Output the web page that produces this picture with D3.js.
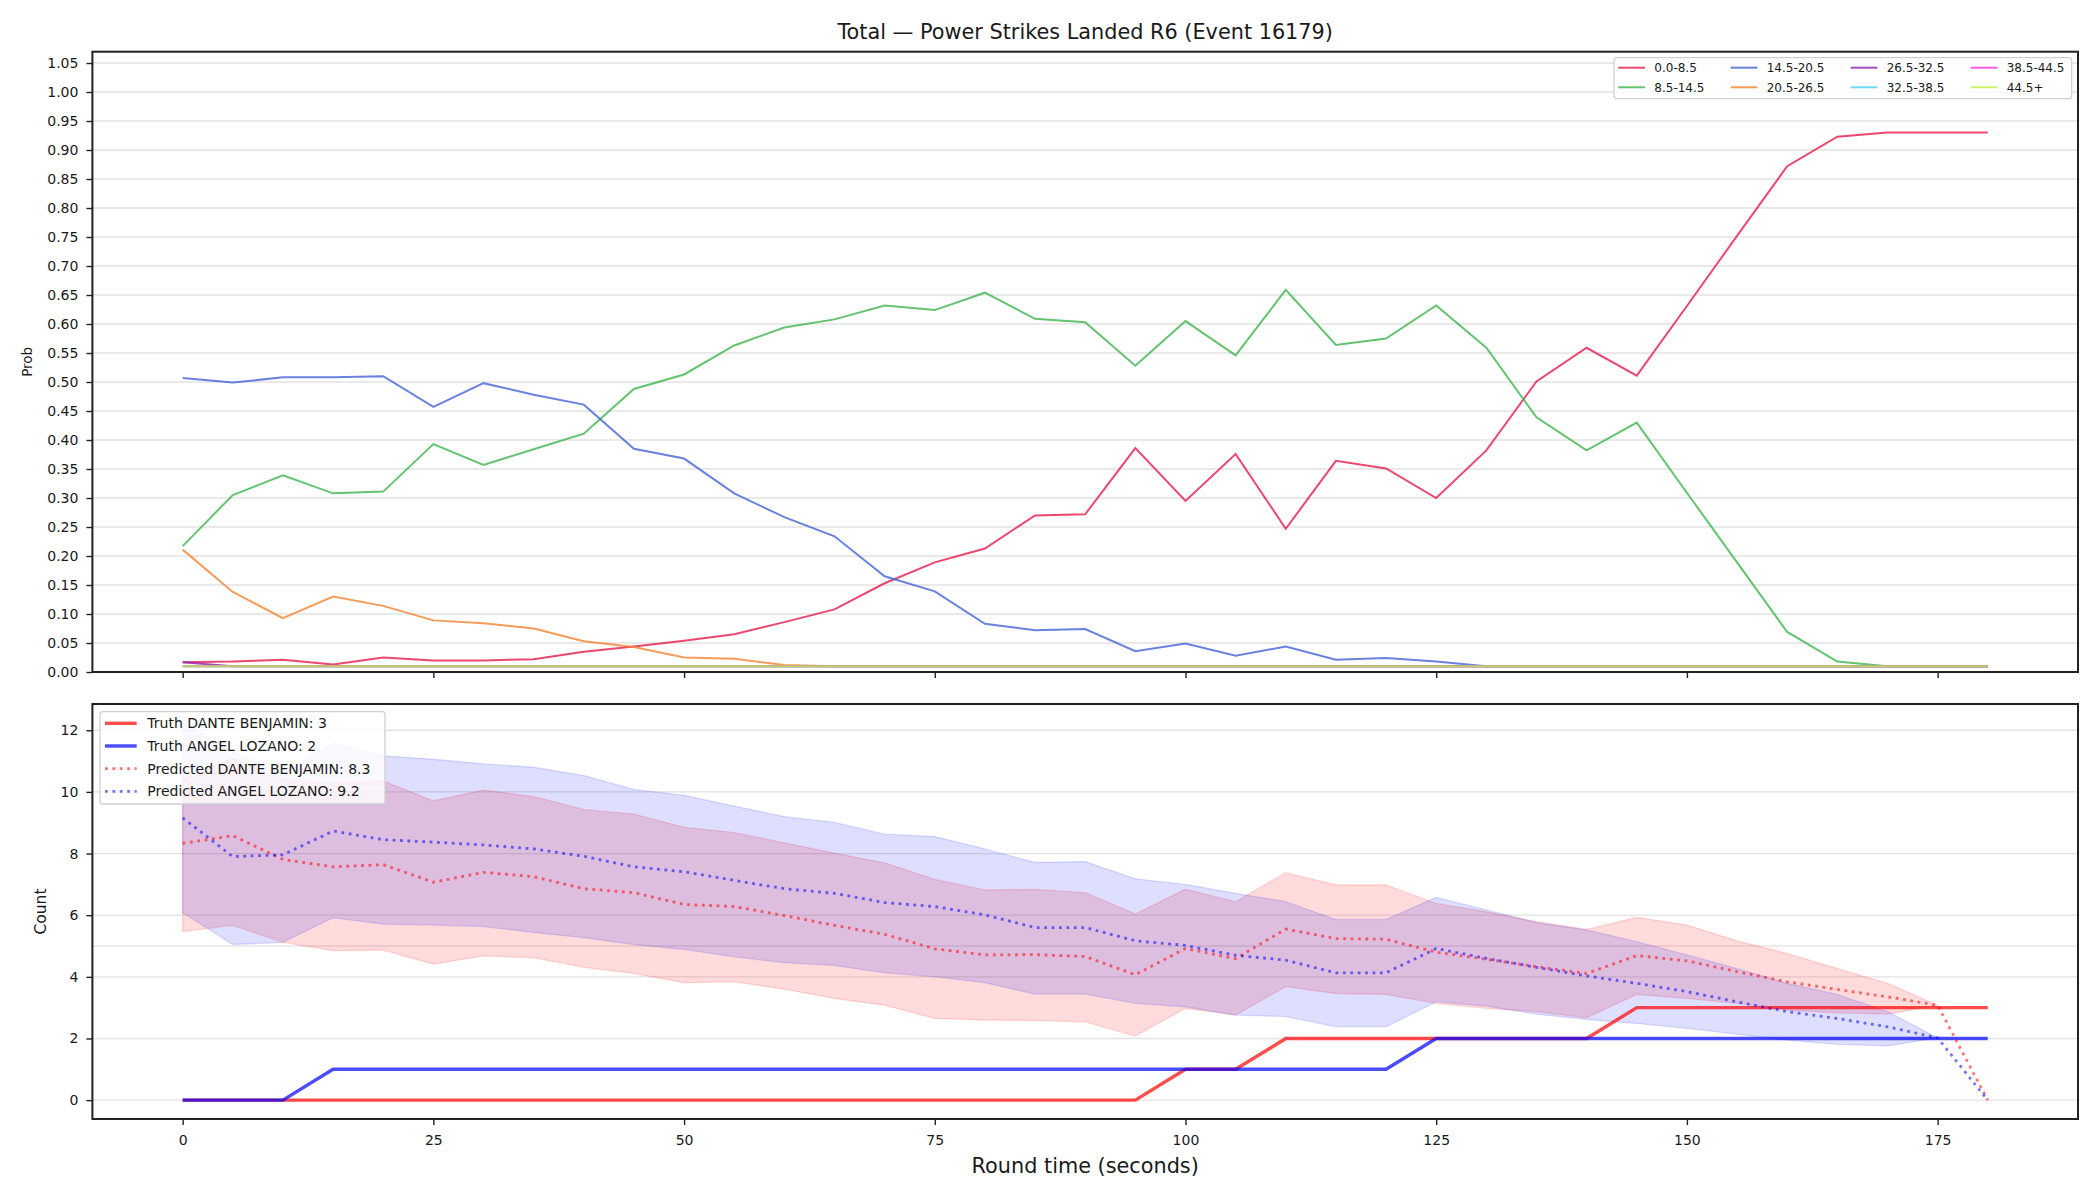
<!DOCTYPE html>
<html>
<head>
<meta charset="utf-8">
<script src="https://cdn.jsdelivr.net/npm/d3@7"></script>
<style>
body { margin: 0; background: #fff; }
text { font-family: "DejaVu Sans", sans-serif; fill: #1a1a1a; }
</style>
</head>
<body>
<script>
// ---- data ----
var times = [0, 5, 10, 15, 20, 25, 30, 35, 40, 45, 50, 55, 60, 65, 70, 75, 80, 85, 90,
	95, 100, 105, 110, 115, 120, 125, 130, 135, 140, 145, 150, 155, 160, 165, 170, 175, 180];

var bucketNames = ["0.0-8.5", "8.5-14.5", "14.5-20.5", "20.5-26.5", "26.5-32.5", "32.5-38.5", "38.5-44.5", "44.5+"];
var bucketColors = ["#e6194b", "#3cb44b", "#4363d8", "#f58231", "#911eb4", "#42d4f4", "#f032e6", "#bfef45"];

var prob0 = [0.017, 0.018, 0.021, 0.013, 0.025, 0.020, 0.020, 0.022, 0.035, 0.044, 0.054, 0.065, 0.086, 0.108, 0.153, 0.189, 0.213, 0.270, 0.272,
	0.386, 0.295, 0.376, 0.247, 0.364, 0.351, 0.300, 0.382, 0.501, 0.559, 0.511, 0.631, 0.752, 0.872, 0.923, 0.930, 0.930, 0.930];
var prob1 = [0.217, 0.305, 0.339, 0.308, 0.311, 0.393, 0.357, 0.384, 0.411, 0.488, 0.513, 0.563, 0.594, 0.608, 0.632, 0.624, 0.654, 0.609, 0.603,
	0.528, 0.605, 0.546, 0.659, 0.564, 0.575, 0.632, 0.559, 0.439, 0.382, 0.430, 0.309, 0.189, 0.069, 0.018, 0.010, 0.010, 0.010];
var prob2 = [0.507, 0.499, 0.508, 0.508, 0.510, 0.457, 0.498, 0.478, 0.461, 0.385, 0.368, 0.308, 0.267, 0.234, 0.165, 0.139, 0.083, 0.072, 0.074,
	0.036, 0.049, 0.028, 0.044, 0.021, 0.024, 0.018, 0.010, 0.010, 0.010, 0.010, 0.010, 0.010, 0.010, 0.010, 0.010, 0.010, 0.010];
var prob3 = [0.211, 0.138, 0.093, 0.130, 0.114, 0.089, 0.084, 0.075, 0.053, 0.043, 0.025, 0.023, 0.012, 0.010, 0.010, 0.010, 0.010, 0.010, 0.010,
	0.010, 0.010, 0.010, 0.010, 0.010, 0.010, 0.010, 0.010, 0.010, 0.010, 0.010, 0.010, 0.010, 0.010, 0.010, 0.010, 0.010, 0.010];
var prob4 = [0.017, 0.010, 0.010, 0.010, 0.010, 0.010, 0.010, 0.010, 0.010, 0.010, 0.010, 0.010, 0.010, 0.010, 0.010, 0.010, 0.010, 0.010, 0.010,
	0.010, 0.010, 0.010, 0.010, 0.010, 0.010, 0.010, 0.010, 0.010, 0.010, 0.010, 0.010, 0.010, 0.010, 0.010, 0.010, 0.010, 0.010];
var prob5 = [0.010, 0.010, 0.010, 0.010, 0.010, 0.010, 0.010, 0.010, 0.010, 0.010, 0.010, 0.010, 0.010, 0.010, 0.010, 0.010, 0.010, 0.010, 0.010,
	0.010, 0.010, 0.010, 0.010, 0.010, 0.010, 0.010, 0.010, 0.010, 0.010, 0.010, 0.010, 0.010, 0.010, 0.010, 0.010, 0.010, 0.010];
var prob6 = [0.010, 0.010, 0.010, 0.010, 0.010, 0.010, 0.010, 0.010, 0.010, 0.010, 0.010, 0.010, 0.010, 0.010, 0.010, 0.010, 0.010, 0.010, 0.010,
	0.010, 0.010, 0.010, 0.010, 0.010, 0.010, 0.010, 0.010, 0.010, 0.010, 0.010, 0.010, 0.010, 0.010, 0.010, 0.010, 0.010, 0.010];
var prob7 = [0.010, 0.010, 0.010, 0.010, 0.010, 0.010, 0.010, 0.010, 0.010, 0.010, 0.010, 0.010, 0.010, 0.010, 0.010, 0.010, 0.010, 0.010, 0.010,
	0.010, 0.010, 0.010, 0.010, 0.010, 0.010, 0.010, 0.010, 0.010, 0.010, 0.010, 0.010, 0.010, 0.010, 0.010, 0.010, 0.010, 0.010];
var probSeries = [prob0, prob1, prob2, prob3, prob4, prob5, prob6, prob7];

var truthDante = [0, 0, 0, 0, 0, 0, 0, 0, 0, 0, 0, 0, 0, 0, 0, 0, 0, 0, 0,
	0, 1, 1, 2, 2, 2, 2, 2, 2, 2, 3, 3, 3, 3, 3, 3, 3, 3];
var truthAngel = [0, 0, 0, 1, 1, 1, 1, 1, 1, 1, 1, 1, 1, 1, 1, 1, 1, 1, 1,
	1, 1, 1, 1, 1, 1, 2, 2, 2, 2, 2, 2, 2, 2, 2, 2, 2, 2];
var predDante = [8.33, 8.58, 7.81, 7.57, 7.64, 7.07, 7.39, 7.25, 6.86, 6.73, 6.35, 6.28, 5.99, 5.67, 5.38, 4.91, 4.71, 4.72, 4.66,
	4.07, 4.92, 4.59, 5.55, 5.24, 5.22, 4.80, 4.57, 4.33, 4.11, 4.69, 4.52, 4.17, 3.84, 3.59, 3.35, 3.08, 0];
var predAngel = [9.16, 7.90, 7.96, 8.73, 8.45, 8.37, 8.28, 8.15, 7.91, 7.57, 7.41, 7.13, 6.86, 6.71, 6.41, 6.28, 6.01, 5.60, 5.60,
	5.17, 5.02, 4.70, 4.54, 4.13, 4.13, 4.92, 4.60, 4.31, 4.03, 3.79, 3.52, 3.19, 2.87, 2.65, 2.38, 2.02, 0];
// bands have no value at 180
var danteLo = [5.47, 5.67, 5.12, 4.85, 4.87, 4.41, 4.68, 4.62, 4.31, 4.11, 3.81, 3.84, 3.60, 3.30, 3.08, 2.65, 2.60, 2.58, 2.54,
	2.08, 2.98, 2.76, 3.68, 3.46, 3.43, 3.14, 2.98, 2.87, 2.67, 3.43, 3.30, 3.14, 2.92, 2.83, 2.79, 3.08, null];
var danteHi = [10.40, 11.10, 10.40, 10.30, 10.35, 9.71, 10.06, 9.85, 9.43, 9.28, 8.85, 8.68, 8.35, 8.01, 7.70, 7.16, 6.82, 6.84, 6.73,
	6.04, 6.84, 6.44, 7.38, 6.98, 6.98, 6.38, 6.11, 5.79, 5.54, 5.93, 5.68, 5.17, 4.76, 4.27, 3.79, 3.08, null];
var angelLo = [6.08, 5.05, 5.12, 5.92, 5.71, 5.68, 5.63, 5.44, 5.27, 5.05, 4.89, 4.65, 4.46, 4.37, 4.13, 4.00, 3.81, 3.44, 3.44,
	3.14, 3.03, 2.76, 2.71, 2.38, 2.38, 3.19, 3.05, 2.79, 2.62, 2.49, 2.33, 2.14, 1.95, 1.81, 1.76, 2.02, null];
var angelHi = [12.24, 11.30, 10.60, 11.58, 11.17, 11.06, 10.91, 10.80, 10.53, 10.08, 9.89, 9.54, 9.20, 9.01, 8.63, 8.55, 8.15, 7.71, 7.74,
	7.18, 7.00, 6.71, 6.44, 5.86, 5.86, 6.58, 6.17, 5.76, 5.52, 5.14, 4.71, 4.27, 3.79, 3.43, 2.87, 2.02, null];
var lineValue = 5;

var probTicks = [0.00, 0.05, 0.10, 0.15, 0.20, 0.25, 0.30, 0.35, 0.40, 0.45, 0.50, 0.55, 0.60, 0.65, 0.70, 0.75, 0.80, 0.85, 0.90, 0.95, 1.00, 1.05];
var countTicks = [0, 2, 4, 6, 8, 10, 12];
var timeTicks = [0, 25, 50, 75, 100, 125, 150, 175];

var titleText = "Total \u2014 Power Strikes Landed R6 (Event 16179)";
var legend2Labels = ["Truth DANTE BENJAMIN: 3", "Truth ANGEL LOZANO: 2", "Predicted DANTE BENJAMIN: 8.3", "Predicted ANGEL LOZANO: 9.2"];

// ---- layout ----
var W = 2100, H = 1200;
var left = 92.4, right = 2078;
var top1 = 51.7, bot1 = 672;
var top2 = 704, bot2 = 1119;

var svg = d3.select("body")
	.append("svg")
	.attr("width", W)
	.attr("height", H);
svg.append("rect").attr("width", W).attr("height", H).attr("fill", "#fff");

var tExt = d3.extent(times);
var tPad = (tExt[1] - tExt[0]) * 0.05;
var x = d3.scaleLinear().domain([tExt[0] - tPad, tExt[1] + tPad]).range([left, right]);

var maxProb = d3.max(probSeries, function (s) { return d3.max(s); });
var y1 = d3.scaleLinear().domain([0, maxProb * 1.15]).range([bot1, top1]);

var maxCount = d3.max([d3.max(angelHi), d3.max(danteHi), d3.max(predAngel), d3.max(predDante)]);
var y2 = d3.scaleLinear().domain([-0.05 * maxCount, 1.05 * maxCount]).range([bot2, top2]);

function styleAxis(g) {
	g.select(".domain").remove();
	g.selectAll(".tick line").attr("stroke", "#222").attr("stroke-width", 1.4);
	g.selectAll(".tick text").style("font-size", "14px").attr("fill", "#1a1a1a");
}

// ---- grids ----
svg.append("g").selectAll("line")
	.data(probTicks)
	.enter().append("line")
	.attr("x1", left).attr("x2", right)
	.attr("y1", function (d) { return y1(d); })
	.attr("y2", function (d) { return y1(d); })
	.attr("stroke", "#e2e2e2").attr("stroke-width", 1.3);

svg.append("g").selectAll("line")
	.data(countTicks)
	.enter().append("line")
	.attr("x1", left).attr("x2", right)
	.attr("y1", function (d) { return y2(d); })
	.attr("y2", function (d) { return y2(d); })
	.attr("stroke", "#e2e2e2").attr("stroke-width", 1.3);

// faint reference line
svg.append("line")
	.attr("x1", left).attr("x2", right)
	.attr("y1", y2(lineValue)).attr("y2", y2(lineValue))
	.attr("stroke", "#e6e6e6").attr("stroke-width", 1.3);

// ---- top panel: bucket probabilities ----
var probLine = d3.line()
	.x(function (d, i) { return x(times[i]); })
	.y(function (d) { return y1(d); });

probSeries.forEach(function (s, k) {
	svg.append("path")
		.attr("d", probLine(s))
		.attr("fill", "none")
		.attr("stroke", bucketColors[k])
		.attr("stroke-opacity", 0.8)
		.attr("stroke-width", 2);
});

// ---- bottom panel: counts ----
function band(lo, hi) {
	return d3.area()
		.defined(function (d, i) { return lo[i] != null && hi[i] != null; })
		.x(function (d, i) { return x(times[i]); })
		.y0(function (d, i) { return y2(lo[i]); })
		.y1(function (d, i) { return y2(hi[i]); })(times);
}
svg.append("path")
	.attr("d", band(danteLo, danteHi))
	.attr("fill", "red").attr("fill-opacity", 0.14)
	.attr("stroke", "red").attr("stroke-opacity", 0.14).attr("stroke-width", 1.3);
svg.append("path")
	.attr("d", band(angelLo, angelHi))
	.attr("fill", "blue").attr("fill-opacity", 0.13)
	.attr("stroke", "blue").attr("stroke-opacity", 0.13).attr("stroke-width", 1.3);

var countLine = d3.line()
	.x(function (d, i) { return x(times[i]); })
	.y(function (d) { return y2(d); });

svg.append("path").attr("d", countLine(truthDante))
	.attr("fill", "none").attr("stroke", "red").attr("stroke-opacity", 0.7).attr("stroke-width", 3.4);
svg.append("path").attr("d", countLine(truthAngel))
	.attr("fill", "none").attr("stroke", "blue").attr("stroke-opacity", 0.7).attr("stroke-width", 3.4);
svg.append("path").attr("d", countLine(predDante))
	.attr("fill", "none").attr("stroke", "red").attr("stroke-opacity", 0.55).attr("stroke-width", 2.8)
	.attr("stroke-dasharray", "2.8,4.6");
svg.append("path").attr("d", countLine(predAngel))
	.attr("fill", "none").attr("stroke", "blue").attr("stroke-opacity", 0.55).attr("stroke-width", 2.8)
	.attr("stroke-dasharray", "2.8,4.6");

// ---- axes ----
svg.append("g")
	.attr("transform", "translate(" + left + ",0)")
	.call(d3.axisLeft(y1).tickValues(probTicks).tickFormat(d3.format(".2f")).tickSize(6).tickPadding(8))
	.call(styleAxis);
svg.append("g")
	.attr("transform", "translate(0," + bot1 + ")")
	.call(d3.axisBottom(x).tickValues(timeTicks).tickFormat("").tickSize(6))
	.call(styleAxis);
svg.append("g")
	.attr("transform", "translate(" + left + ",0)")
	.call(d3.axisLeft(y2).tickValues(countTicks).tickFormat(d3.format("d")).tickSize(6).tickPadding(8))
	.call(styleAxis);
svg.append("g")
	.attr("transform", "translate(0," + bot2 + ")")
	.call(d3.axisBottom(x).tickValues(timeTicks).tickFormat(d3.format("d")).tickSize(6).tickPadding(10))
	.call(styleAxis);

// frames
[[top1, bot1], [top2, bot2]].forEach(function (p) {
	svg.append("rect")
		.attr("x", left).attr("y", p[0])
		.attr("width", right - left).attr("height", p[1] - p[0])
		.attr("fill", "none").attr("stroke", "#222").attr("stroke-width", 2);
});

// labels
svg.append("text")
	.attr("x", (left + right) / 2).attr("y", 39)
	.attr("text-anchor", "middle")
	.style("font-size", "20.8px")
	.text(titleText);
svg.append("text")
	.attr("x", (left + right) / 2).attr("y", 1172.5)
	.attr("text-anchor", "middle")
	.style("font-size", "20.8px")
	.text("Round time (seconds)");
svg.append("text")
	.attr("transform", "translate(32," + (top1 + bot1) / 2 + ")rotate(-90)")
	.attr("text-anchor", "middle")
	.style("font-size", "13.5px")
	.text("Prob");
svg.append("text")
	.attr("transform", "translate(46," + (top2 + bot2) / 2 + ")rotate(-90)")
	.attr("text-anchor", "middle")
	.style("font-size", "15.5px")
	.text("Count");

// ---- legend, top panel (4 columns, column-major) ----
var leg1 = svg.append("g");
leg1.append("rect")
	.attr("x", 1614).attr("y", 57.7).attr("width", 457.7).attr("height", 41).attr("rx", 3)
	.attr("fill", "#fff").attr("fill-opacity", 0.8).attr("stroke", "#d0d0d0").attr("stroke-width", 1.3);
var colX = [1618.3, 1730.7, 1850.7, 1970.7];
var rowY = [67.7, 87.3];
bucketNames.forEach(function (name, k) {
	var cx = colX[Math.floor(k / 2)], cy = rowY[k % 2];
	leg1.append("line")
		.attr("x1", cx).attr("x2", cx + 26.7).attr("y1", cy).attr("y2", cy)
		.attr("stroke", bucketColors[k]).attr("stroke-opacity", 0.8).attr("stroke-width", 2);
	leg1.append("text")
		.attr("x", cx + 36).attr("y", cy).attr("dy", "0.36em")
		.style("font-size", "12px")
		.text(name);
});

// ---- legend, bottom panel ----
var leg2 = svg.append("g");
leg2.append("rect")
	.attr("x", 100).attr("y", 711.7).attr("width", 285).attr("height", 92.3).attr("rx", 3)
	.attr("fill", "#fff").attr("fill-opacity", 0.8).attr("stroke", "#d0d0d0").attr("stroke-width", 1.3);
var leg2Color = ["red", "blue", "red", "blue"];
var leg2Dash = [null, null, "2.8,4.6", "2.8,4.6"];
var leg2Op = [0.7, 0.7, 0.55, 0.55];
var leg2W = [3.4, 3.4, 2.8, 2.8];
legend2Labels.forEach(function (lab, k) {
	var cy = 723.3 + k * 22.67;
	leg2.append("line")
		.attr("x1", 105).attr("x2", 136.7).attr("y1", cy).attr("y2", cy)
		.attr("stroke", leg2Color[k]).attr("stroke-opacity", leg2Op[k]).attr("stroke-width", leg2W[k])
		.attr("stroke-dasharray", leg2Dash[k]);
	leg2.append("text")
		.attr("x", 147.3).attr("y", cy).attr("dy", "0.36em")
		.style("font-size", "14px")
		.text(lab);
});
</script>
</body>
</html>
